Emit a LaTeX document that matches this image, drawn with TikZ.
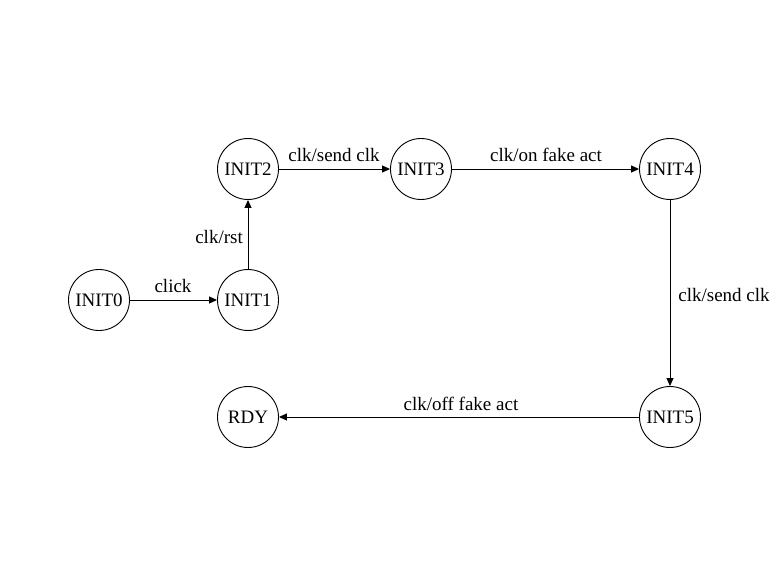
\documentclass[tikz,border=0pt]{standalone}
\usepackage{fontspec}
\setmainfont{Liberation Serif}
\usetikzlibrary{arrows.meta}
\begin{document}
\begin{tikzpicture}[x=1pt,y=-1pt,
  state/.style={circle,draw,line width=0.9pt,minimum size=61pt,inner sep=0pt,font=\fontsize{19}{21}\selectfont},
  lbl/.style={font=\fontsize{19}{21}\selectfont,inner sep=0pt},
  edge/.style={line width=0.9pt,-{Triangle[length=8pt,width=7pt]}}]
\useasboundingbox (0,0) rectangle (778,588);
\node[state] (i0) at (99,300) {INIT0};
\node[state] (i1) at (248,300) {INIT1};
\node[state] (i2) at (248,169) {INIT2};
\node[state] (i3) at (421,169) {INIT3};
\node[state] (i4) at (670,169) {INIT4};
\node[state] (i5) at (670,417) {INIT5};
\node[state] (rdy) at (248,417) {RDY};
\draw[edge] (i0) -- (i1);
\draw[edge] (i1) -- (i2);
\draw[edge] (i2) -- (i3);
\draw[edge] (i3) -- (i4);
\draw[edge] (i4) -- (i5);
\draw[edge] (i5) -- (rdy);
\node[lbl] (l1) at (173,286) {click};
\node[lbl,anchor=east] (l2) at (243,237) {clk/rst};
\node[lbl] (l3) at (334,155) {clk/send clk};
\node[lbl] (l4) at (546,155) {clk/on fake act};
\node[lbl] (l5) at (724,295) {clk/send clk};
\node[lbl] (l6) at (461,404) {clk/off fake act};
\end{tikzpicture}
\end{document}
